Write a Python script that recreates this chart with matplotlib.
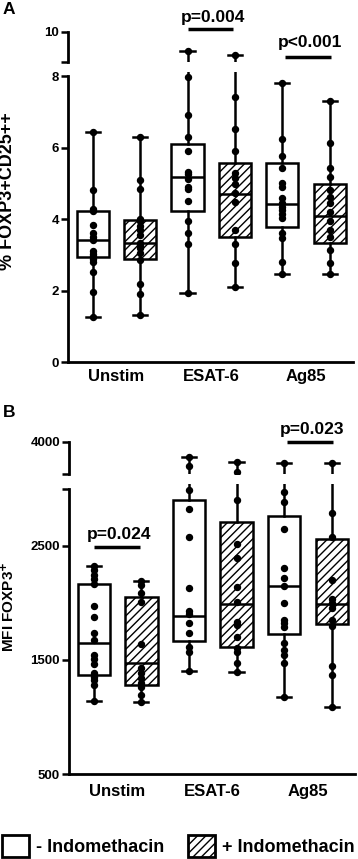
import matplotlib
matplotlib.use('Agg')
import matplotlib.pyplot as plt
from matplotlib.patches import Patch

plt.rcParams['font.family'] = ['Liberation Sans', 'DejaVu Sans']
plt.rcParams['font.weight'] = 'bold'
plt.rcParams['mathtext.default'] = 'bf'
plt.rcParams['hatch.linewidth'] = 1.0

# order of boxes: Unstim -, Unstim +, ESAT-6 -, ESAT-6 +, Ag85 -, Ag85 +
groups = ['Unstim', 'ESAT-6', 'Ag85']
positions = [1, 2, 3, 4, 5, 6]
hatched = [False, True, False, True, False, True]

# panel A: % FOXP3+CD25++
a_min = [1.27, 1.31, 1.94, 2.11, 2.46, 2.45]
a_q1 = [2.93, 2.89, 4.22, 3.49, 3.79, 3.32]
a_med = [3.40, 3.33, 5.17, 4.70, 4.43, 4.09]
a_q3 = [4.22, 3.96, 6.09, 5.58, 5.58, 4.98]
a_max = [6.43, 6.30, 9.38, 9.24, 7.81, 7.30]

a_unstim_minus = [6.43, 4.80, 4.27, 4.22, 3.82, 3.62, 3.50, 3.40, 3.10, 3.03, 2.96, 2.88, 2.80, 2.51, 1.97, 1.27]
a_unstim_plus = [6.30, 5.08, 4.85, 4.00, 3.94, 3.80, 3.69, 3.55, 3.34, 3.27, 3.18, 3.06, 2.85, 2.17, 1.89, 1.31]
a_esat_minus = [9.38, 7.98, 6.91, 6.29, 5.91, 5.32, 5.26, 5.12, 4.90, 4.83, 4.50, 3.95, 3.60, 3.30, 1.94]
a_esat_plus = [9.24, 7.42, 6.51, 5.90, 5.28, 5.14, 4.98, 4.72, 4.48, 3.69, 3.29, 2.78, 2.11]
a_ag85_minus = [7.81, 6.24, 5.76, 5.43, 5.00, 4.90, 4.58, 4.46, 4.34, 4.25, 4.14, 4.02, 3.60, 3.46, 2.81, 2.46]
a_ag85_plus = [7.30, 6.12, 5.43, 5.17, 4.81, 4.62, 4.44, 4.20, 3.95, 3.69, 3.49, 3.13, 2.76, 2.45]

# panel B: MFI FOXP3+
b_min = [1144, 1135, 1407, 1392, 1179, 1092]
b_q1 = [1369, 1281, 1666, 1611, 1728, 1812]
b_med = [1652, 1471, 1888, 1990, 2148, 1987]
b_q3 = [2162, 2049, 2900, 2710, 2760, 2559]
b_max = [2323, 2194, 3760, 3684, 3673, 3673]

b_unstim_minus = [2323, 2288, 2244, 2206, 2165, 1973, 1874, 1739, 1675, 1544, 1506, 1465, 1384, 1354, 1325, 1281, 1144]
b_unstim_plus = [2194, 2156, 2084, 2010, 1637, 1427, 1384, 1340, 1296, 1267, 1194, 1135]
b_esat_minus = [3760, 3627, 2988, 2819, 2574, 2133, 1932, 1903, 1821, 1734, 1611, 1573, 1407]
b_esat_plus = [3684, 3540, 2900, 2512, 2390, 2142, 2010, 1835, 1806, 1704, 1602, 1573, 1477, 1392]
b_ag85_minus = [3673, 2973, 2880, 2644, 2303, 2215, 2148, 2002, 1850, 1821, 1792, 1652, 1588, 1544, 1477, 1179]
b_ag85_plus = [3673, 2789, 2574, 2200, 2031, 1996, 1952, 1850, 1800, 1447, 1369, 1092]

# p-values: (text, x1, x2, y line, panel part)
a_pvals = [('p=0.004', 3.0, 3.97, 10.10, 10.47), ('p<0.001', 5.05, 6.02, 9.18, 9.65)]
b_pvals_lower = [('p=0.024', 1.01, 1.97, 2491, 2600)]
b_pvals_upper = [('p=0.023', 5.06, 6.02, 4000, 4180)]

W, H = 358, 859
fig = plt.figure(figsize=(W / 100, H / 100), dpi=100)


def px_axes(left, right, top, bottom):
    return fig.add_axes([left / W, 1 - bottom / H, (right - left) / W, (bottom - top) / H])


def draw_boxes(ax, mins, q1s, meds, q3s, maxs, points):
    stats = []
    for lo, a, m, b, hi in zip(mins, q1s, meds, q3s, maxs):
        stats.append(dict(whislo=lo, q1=a, med=m, q3=b, whishi=hi, fliers=[]))
    lw = 1.8
    arts = ax.bxp(stats, positions=positions, widths=0.68, capwidths=0.3,
                  patch_artist=True, showfliers=False, manage_ticks=False,
                  boxprops=dict(facecolor='white', edgecolor='black', linewidth=lw),
                  whiskerprops=dict(color='black', linewidth=lw),
                  capprops=dict(color='black', linewidth=lw),
                  medianprops=dict(color='black', linewidth=lw))
    for box, h in zip(arts['boxes'], hatched):
        if h:
            box.set_hatch('////')
    for pos, vals in zip(positions, points):
        ax.plot([pos] * len(vals), vals, 'o', color='black', markersize=4.3, zorder=5)


def style_axes(ax, lower):
    ax.set_xlim(0.48, 6.49)
    for s in ['top', 'right']:
        ax.spines[s].set_visible(False)
    ax.spines['left'].set_linewidth(2)
    ax.spines['bottom'].set_linewidth(2)
    if not lower:
        ax.spines['bottom'].set_visible(False)
        ax.set_xticks([])
    ax.tick_params(axis='y', width=1.8, length=5, labelsize=9.5, pad=1.5)
    ax.patch.set_visible(False)


def draw_pval(ax, text, x1, x2, yl, yt):
    ax.plot([x1, x2], [yl, yl], color='black', lw=2.5, clip_on=False, solid_capstyle='butt')
    ax.text((x1 + x2) / 2 + 0.05, yt, text, ha='center', va='center', fontsize=12.5)


a_points = [a_unstim_minus, a_unstim_plus, a_esat_minus, a_esat_plus, a_ag85_minus, a_ag85_plus]
b_points = [b_unstim_minus, b_unstim_plus, b_esat_minus, b_esat_plus, b_ag85_minus, b_ag85_plus]

# ---- panel A (broken axis) ----
axA = px_axes(68, 353, 362 - 8.12 * 35.75, 362)
axA_top = px_axes(68, 353, 31.7, 62.3)
for ax in (axA, axA_top):
    draw_boxes(ax, a_min, a_q1, a_med, a_q3, a_max, a_points)
axA.set_ylim(0, 8.12)
axA_top.set_ylim(9, 10)
style_axes(axA, True)
style_axes(axA_top, False)
axA.spines['left'].set_bounds(0, 8)
axA.set_yticks([0, 2, 4, 6, 8])
axA_top.set_yticks([9, 10])
axA_top.set_yticklabels(['', '10'])
axA.set_xticks([1.5, 3.5, 5.5])
axA.set_xticklabels(groups, fontsize=12)
axA.tick_params(axis='x', length=0, pad=5)
for t, x1, x2, yl, yt in a_pvals:
    draw_pval(axA_top, t, x1, x2, yl, yt)

# ---- panel B (broken axis) ----
bs = 0.1143
axB = px_axes(69, 355, 774.3 - 2540 * bs, 774.3)
axB_top = px_axes(69, 355, 441.7, 474.3)
for ax in (axB, axB_top):
    draw_boxes(ax, b_min, b_q1, b_med, b_q3, b_max, b_points)
axB.set_ylim(500, 3040)
axB_top.set_ylim(3500, 4000)
style_axes(axB, True)
style_axes(axB_top, False)
axB.spines['left'].set_bounds(500, 3000)
axB.set_yticks([500, 1500, 2500, 3000])
axB.set_yticklabels(['500', '1500', '2500', ''])
axB_top.set_yticks([3500, 4000])
axB_top.set_yticklabels(['', '4000'])
axB.set_xticks([1.5, 3.5, 5.5])
axB.set_xticklabels(groups, fontsize=12)
axB.tick_params(axis='x', length=0, pad=7)
for t, x1, x2, yl, yt in b_pvals_lower:
    draw_pval(axB, t, x1, x2, yl, yt)
for t, x1, x2, yl, yt in b_pvals_upper:
    draw_pval(axB_top, t, x1, x2, yl, yt)

# panel letters and axis titles
fig.text(9 / W, 1 - 10 / H, 'A', fontsize=12.5, ha='center', va='center')
fig.text(9 / W, 1 - 412 / H, 'B', fontsize=12.5, ha='center', va='center')
fig.text(8 / W, 1 - 191 / H, '% FOXP3+CD25++', rotation=90, ha='center', va='center', fontsize=13)
fig.text(8 / W, 1 - 607 / H, 'MFI FOXP3$^{+}$', rotation=90, ha='center', va='center', fontsize=11)

handles = [Patch(facecolor='white', edgecolor='black', linewidth=2),
           Patch(facecolor='white', edgecolor='black', linewidth=2, hatch='////')]
fig.legend(handles, ['- Indomethacin', '+ Indomethacin'], ncol=2, frameon=False,
           loc='lower left', bbox_to_anchor=(0.0, 0.0), borderaxespad=0, borderpad=0.1,
           fontsize=13, handlelength=1.5, handleheight=1.5, handletextpad=0.4,
           columnspacing=1.3)

fig.savefig('out.png', dpi=100)
